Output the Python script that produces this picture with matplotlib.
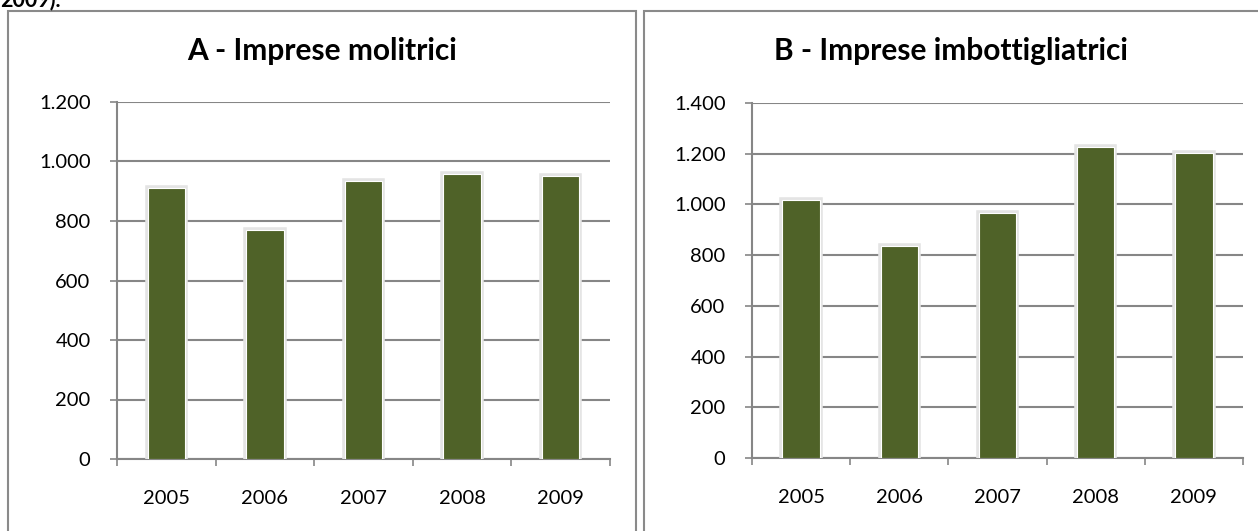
import matplotlib
matplotlib.use("Agg")
import matplotlib.pyplot as plt
import matplotlib.patches as mpatches
import matplotlib.patheffects as pe
from matplotlib.ticker import FuncFormatter, FixedLocator

plt.rcParams['font.family'] = ['Lato', 'DejaVu Sans']

years = ['2005', '2006', '2007', '2008', '2009']
molitrici = [912, 770, 935, 959, 952]
imbottigliatrici = [1017, 838, 967, 1228, 1204]

BAR = '#4F6228'
GRID = '#868686'

W, H = 1258, 531
fig = plt.figure(figsize=(W / 100, H / 100), dpi=100)


def dot_thousands(v, pos):
    return f'{int(v):,}'.replace(',', '.')


def draw_panel(rect, values, ymax, title, title_x):
    ax = fig.add_axes(rect)
    x = range(len(values))
    bars = ax.bar(x, values, width=0.38, color=BAR, edgecolor='white',
                  linewidth=0.8, zorder=3)
    for b in bars:
        b.set_path_effects([pe.Stroke(linewidth=4, foreground='#e4e4e4'),
                            pe.Normal()])
    ax.set_xlim(-0.5, len(values) - 0.5)
    ax.set_ylim(0, ymax)
    ax.set_yticks(range(0, ymax + 1, 200))
    ax.yaxis.set_major_formatter(FuncFormatter(dot_thousands))
    ax.yaxis.grid(True, color=GRID, linewidth=1.5, zorder=1)
    ax.set_axisbelow(True)

    # category labels sit between the boundary ticks
    ax.xaxis.set_major_locator(FixedLocator([i - 0.5 for i in range(len(values) + 1)]))
    ax.xaxis.set_minor_locator(FixedLocator(list(x)))
    ax.set_xticklabels([])
    ax.set_xticklabels(years, minor=True)
    ax.tick_params(axis='x', which='major', length=5, width=1.2, color=GRID,
                   direction='out')
    ax.tick_params(axis='x', which='minor', length=0, pad=22, labelsize=14.5)
    ax.tick_params(axis='y', length=5, width=1.2, color=GRID, pad=14,
                   labelsize=14.5)

    for s in ['top', 'right']:
        ax.spines[s].set_visible(False)
    for s in ['left', 'bottom']:
        ax.spines[s].set_color(GRID)
        ax.spines[s].set_linewidth(1.5)

    fig.text(title_x / W, 1 - 51 / H, title, ha='center', va='center',
             fontsize=21.5, fontweight='bold')
    return ax


draw_panel([117 / W, 1 - 459 / H, 493 / W, 357 / H], molitrici, 1200,
           'A - Imprese molitrici', 322)
draw_panel([752 / W, 1 - 458 / H, 491 / W, 355 / H], imbottigliatrici, 1400,
           'B - Imprese imbottigliatrici', 951)

# chart borders, running off the bottom/right of the page
for x0, x1 in [(8, 636), (644, 1270)]:
    fig.add_artist(mpatches.Rectangle((x0 / W, -0.1), (x1 - x0) / W,
                                      1.1 - 11 / H, transform=fig.transFigure,
                                      fill=False, edgecolor='#8a8a8a',
                                      linewidth=1.5, clip_on=False))

# tail of the caption from the previous line of the page
fig.text(0.0, 1 - 6 / H, '2009).', ha='left', va='baseline', fontsize=15.5,
         fontweight='bold')

fig.savefig('out.png', dpi=100)
